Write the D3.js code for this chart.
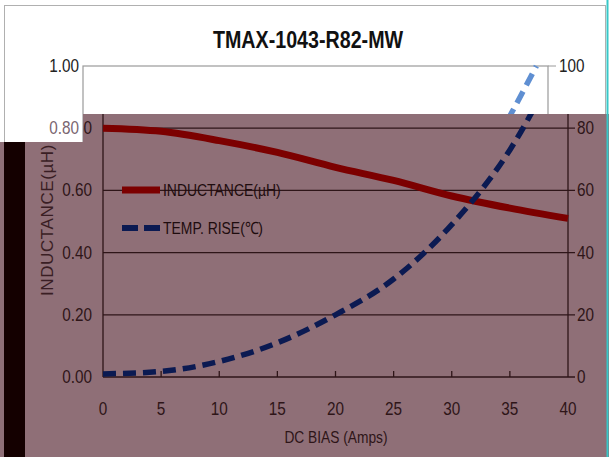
<!DOCTYPE html>
<html>
<head>
<meta charset="utf-8">
<script src="https://d3js.org/d3.v7.min.js"></script>
<style>
body { margin: 0; background: #fff; }
svg { display: block; }
text { font-family: "Liberation Sans", Arial, sans-serif; }
</style>
</head>
<body>
<svg width="609" height="457"></svg>
<script>
// values
const amps = [0, 5, 10, 15, 20, 25, 30, 35, 40];
const inductance = [0.80, 0.79, 0.76, 0.722, 0.674, 0.632, 0.582, 0.543, 0.51];
const tempAmps = [0, 5, 10, 15, 20, 25, 30, 35, 39];
const tempRise = [1, 1.8, 5, 11, 20, 31.5, 49, 73, 100];
const xTicks = [0, 5, 10, 15, 20, 25, 30, 35, 40];
const leftTicks = [0, 0.2, 0.4, 0.6, 0.8, 1.0];
const rightTicks = [0, 20, 40, 60, 80, 100];
const legendLabels = ["INDUCTANCE(\u00b5H)", "TEMP. RISE(\u2103)"];

const svg = d3.select("svg");
const W = 609, H = 457;

// narrow look: squeeze text horizontally
const sq = (x, y, s) => `translate(${x},${y}) scale(${s},1)`;

// the picture is two copies of the chart: a plain one underneath and a tinted one shifted 20px right
const yL = d3.scaleLinear().domain([0, 1]).range([377, 66]);
const yR = d3.scaleLinear().domain([0, 100]).range([377, 66]);
const xBase = d3.scaleLinear().domain([0, 40]).range([83, 548]);
const xTint = d3.scaleLinear().domain([0, 40]).range([103, 568]);

const indPts = amps.map((a, i) => [a, inductance[i]]);
const tmpPts = tempAmps.map((a, i) => [a, tempRise[i]]);

// ---- base layer ----
svg.append("rect").attr("x", 4.5).attr("y", 5.5).attr("width", 601).attr("height", 460)
    .attr("fill", "#fff").attr("stroke", "#b0b0b0");

svg.append("text").attr("transform", sq(308, 48, 0.82)).attr("text-anchor", "middle")
    .attr("font-size", 24).attr("font-weight", "bold").attr("fill", "#111")
    .text("TMAX-1043-R82-MW");

const base = svg.append("g");
base.append("rect").attr("x", xBase(0)).attr("y", yL(1))
    .attr("width", xBase(40) - xBase(0)).attr("height", yL(0) - yL(1))
    .attr("fill", "none").attr("stroke", "#9a9a9a").attr("stroke-width", 1.2);
base.append("line").attr("x1", xBase(40)).attr("x2", xBase(40) + 8)
    .attr("y1", yR(100)).attr("y2", yR(100)).attr("stroke", "#9a9a9a");
base.selectAll("text.l").data(leftTicks.filter(d => d >= 0.8)).enter().append("text")
    .attr("transform", d => sq(xBase(0) - 4, yL(d) + 6, 0.85)).attr("text-anchor", "end")
    .attr("font-size", 18).attr("fill", d => d === 1 ? "#222" : "#7a6570")
    .text(d => d.toFixed(2));
base.append("text").attr("transform", sq(xBase(40) + 11, yR(100) + 6, 0.85))
    .attr("font-size", 18).attr("fill", "#222").text(rightTicks[5]);

const lineBase = d3.line().x(d => xBase(d[0])).curve(d3.curveMonotoneX);
base.append("path").attr("d", lineBase.y(d => yR(d[1]))(tmpPts))
    .attr("fill", "none").attr("stroke", "#5f8fd2").attr("stroke-width", 5.5)
    .attr("stroke-dasharray", "13 7");

// ---- tinted layer ----
const maskPath = `M83,114H${W}V${H}H0V142H83Z`;
svg.append("clipPath").attr("id", "tintClip").append("path").attr("d", maskPath);
const tint = svg.append("g").attr("clip-path", "url(#tintClip)");
tint.append("path").attr("d", maskPath).attr("fill", "#8f6f77");
tint.append("rect").attr("x", 4).attr("y", 142).attr("width", 21).attr("height", H - 142).attr("fill", "#140000");

const ink = "#2e1518";
tint.selectAll("line.grid").data(leftTicks.filter(d => d > 0 && d < 1)).enter().append("line")
    .attr("x1", xTint(0)).attr("x2", xTint(40) + 7)
    .attr("y1", d => yL(d)).attr("y2", d => yL(d))
    .attr("stroke", ink).attr("stroke-width", 1.3);
// axes
tint.append("line").attr("x1", xTint(0)).attr("x2", xTint(0)).attr("y1", 100).attr("y2", yL(0))
    .attr("stroke", ink).attr("stroke-width", 1.3);
tint.append("line").attr("x1", xTint(40)).attr("x2", xTint(40)).attr("y1", 100).attr("y2", yL(0))
    .attr("stroke", ink).attr("stroke-width", 1.3);
tint.append("line").attr("x1", xTint(0)).attr("x2", xTint(40) + 7).attr("y1", yL(0)).attr("y2", yL(0))
    .attr("stroke", ink).attr("stroke-width", 1.6);
tint.selectAll("line.xt").data(xTicks.filter(d => d > 0 && d < 40)).enter().append("line")
    .attr("x1", d => xTint(d)).attr("x2", d => xTint(d)).attr("y1", yL(0)).attr("y2", yL(0) - 6)
    .attr("stroke", ink).attr("stroke-width", 1.3);

tint.selectAll("text.l").data(leftTicks.filter(d => d < 1)).enter().append("text")
    .attr("transform", d => sq(xTint(0) - 11, yL(d) + 6, 0.85)).attr("text-anchor", "end")
    .attr("font-size", 18).attr("fill", ink).text(d => d.toFixed(2));
tint.selectAll("text.r").data(rightTicks.filter(d => d < 100)).enter().append("text")
    .attr("transform", d => sq(xTint(40) + 9, yR(d) + 6, 0.85))
    .attr("font-size", 18).attr("fill", ink).text(d => d);
tint.selectAll("text.x").data(xTicks).enter().append("text")
    .attr("transform", d => sq(xTint(d), 415, 0.85)).attr("text-anchor", "middle")
    .attr("font-size", 18).attr("fill", ink).text(d => d);

tint.append("text").attr("transform", sq(336, 443, 0.86)).attr("text-anchor", "middle")
    .attr("font-size", 16).attr("fill", ink).text("DC BIAS  (Amps)");
tint.append("text").attr("transform", "translate(53,220) rotate(-90)").attr("text-anchor", "middle")
    .attr("font-size", 17).attr("letter-spacing", 0.6).attr("fill", "#3a1e24").text("INDUCTANCE(\u00b5H)");

const lineTint = d3.line().x(d => xTint(d[0])).curve(d3.curveMonotoneX);
tint.append("path").attr("d", lineTint.y(d => yL(d[1]))(indPts))
    .attr("fill", "none").attr("stroke", "#7c0000").attr("stroke-width", 7);
tint.append("path").attr("d", lineTint.y(d => yR(d[1]))(tmpPts))
    .attr("fill", "none").attr("stroke", "#0b1a52").attr("stroke-width", 5.5)
    .attr("stroke-dasharray", "13 7");

// legend
const leg = tint.append("g");
leg.append("line").attr("x1", 122).attr("x2", 160).attr("y1", 190).attr("y2", 190)
    .attr("stroke", "#7c0000").attr("stroke-width", 7);
leg.append("line").attr("x1", 122).attr("x2", 160).attr("y1", 228).attr("y2", 228)
    .attr("stroke", "#0b1a52").attr("stroke-width", 6).attr("stroke-dasharray", "16 6");
leg.selectAll("text").data(legendLabels).enter().append("text")
    .attr("transform", (d, i) => sq(163, 196 + i * 38, 0.82))
    .attr("font-size", 17).attr("fill", "#1e0c0e").text(d => d);

// thin cyan edge on the right
svg.append("line").attr("x1", 607.5).attr("x2", 607.5).attr("y1", 0).attr("y2", H)
    .attr("stroke", "#37c8c8").attr("stroke-width", 2);
</script>
</body>
</html>
